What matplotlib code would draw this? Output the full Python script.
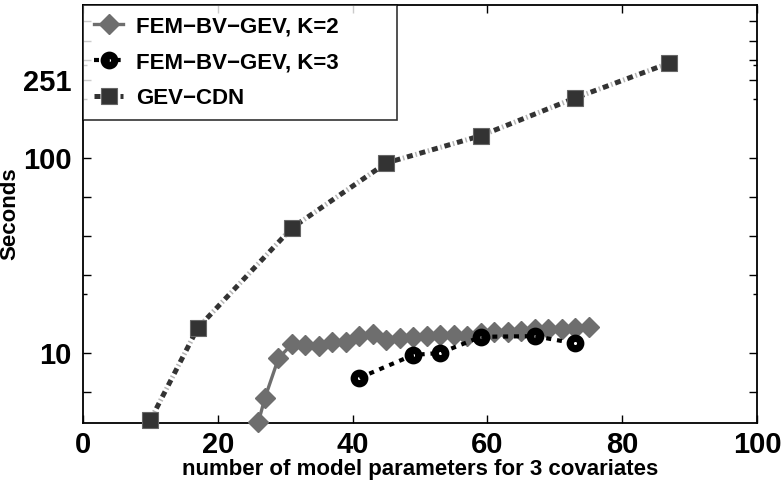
import matplotlib
matplotlib.use("Agg")
import matplotlib.pyplot as plt
import numpy as np
from matplotlib.ticker import FixedLocator, FixedFormatter, NullFormatter

plt.rcParams['font.family'] = ['Liberation Sans', 'DejaVu Sans']
plt.rcParams['font.weight'] = 'bold'

# run times (seconds) against number of model parameters
k2_params = [26, 27, 29, 31, 33, 35, 37, 39, 41, 43, 45, 47, 49, 51, 53, 55, 57,
             59, 61, 63, 65, 67, 69, 71, 73, 75]
k2_seconds = [4.4, 5.9, 9.4, 11.1, 11.0, 10.8, 11.4, 11.4, 12.2, 12.5, 11.7, 12.0,
              12.1, 12.2, 12.3, 12.3, 12.2, 12.6, 12.8, 12.8, 13.0, 13.3, 13.2,
              13.3, 13.4, 13.6]

k3_params = [41, 49, 53, 59, 67, 73]
k3_seconds = [7.45, 9.77, 10.0, 12.1, 12.2, 11.2]

cdn_params = [10, 17, 31, 45, 59, 73, 87]
cdn_seconds = [4.53, 13.4, 43.8, 94.3, 130, 203, 307]

labels = ['FEM\u2212BV\u2212GEV, K=2', 'FEM\u2212BV\u2212GEV, K=3', 'GEV\u2212CDN']

y_major = [10**0.8, 10, 10**1.4, 10**1.6, 10**1.8, 100, 10**2.4, 10**2.5,
           10**2.6, 10**2.7]
y_major_text = ['', '10', '', '', '', '100', '251', '', '', '']
y_minor = [20, 200, 300]

fig = plt.figure(figsize=(7.81, 4.8), dpi=100)
ax = fig.add_axes([0.1063, 0.1188, 0.863, 0.871])

ax.plot(k2_params, k2_seconds, color='#6e6e6e', lw=2.4, marker='D', ms=10,
        mfc='#6e6e6e', mec='#6e6e6e', label=labels[0], clip_on=False, zorder=3)

ax.plot(k3_params, k3_seconds, color='black', lw=3, ls=(0, (1.2, 1.4)),
        marker='o', ms=7.6, mfc='none', mec='black', mew=5.2, label=labels[1],
        zorder=4)

# light strokes in the gaps of the dotted line, then the dark dots on top
ax.plot(cdn_params, cdn_seconds, color='#b4b4b4', lw=3.6, ls=(0.85, (0.3, 2.3)),
        zorder=2, clip_on=False)
ax.plot(cdn_params, cdn_seconds, color='#333333', lw=3.6,
        ls=(0, (1.2, 1.4)), marker='s', ms=11.5, mfc='#333333',
        mec='#666666', mew=0.8, label=labels[2], zorder=3, clip_on=False)

ax.set_yscale('log')
ax.set_xlim(0, 100)
ax.set_ylim(10**0.641, 10**2.785)

ax.set_xticks([0, 20, 40, 60, 80, 100])
ax.yaxis.set_major_locator(FixedLocator(y_major))
ax.yaxis.set_major_formatter(FixedFormatter(y_major_text))
ax.yaxis.set_minor_locator(FixedLocator(y_minor))
ax.yaxis.set_minor_formatter(NullFormatter())

ax.tick_params(which='both', direction='in', top=True, right=True,
               labelsize=21, width=1.0)
ax.tick_params(which='major', length=6, pad=6)
ax.tick_params(axis='y', which='major', pad=8)
ax.tick_params(which='minor', length=3)
for lab in ax.get_xticklabels() + ax.get_yticklabels():
    lab.set_fontweight('bold')
for sp in ax.spines.values():
    sp.set_linewidth(1.3)

ax.set_xlabel('number of model parameters for 3 covariates', fontsize=16,
              fontweight='bold', labelpad=0)
ax.set_ylabel('Seconds', fontsize=16, fontweight='bold', labelpad=2)

# legend box stretched to the right like the original figure
leg_w = (397 - 83) / 674
leg_h = (116 - 5) / 418
leg = ax.legend(loc='upper left', fontsize=16, frameon=True, fancybox=False,
                bbox_to_anchor=(0, 1 - leg_h, leg_w, leg_h), mode='expand',
                borderaxespad=0, handlelength=1.3, handletextpad=0.6,
                labelspacing=0.68, borderpad=0.5)
leg.get_frame().set_edgecolor('black')
leg.get_frame().set_linewidth(1.2)
for t in leg.get_texts():
    t.set_fontweight('bold')

fig.savefig('out.png', dpi=100)
